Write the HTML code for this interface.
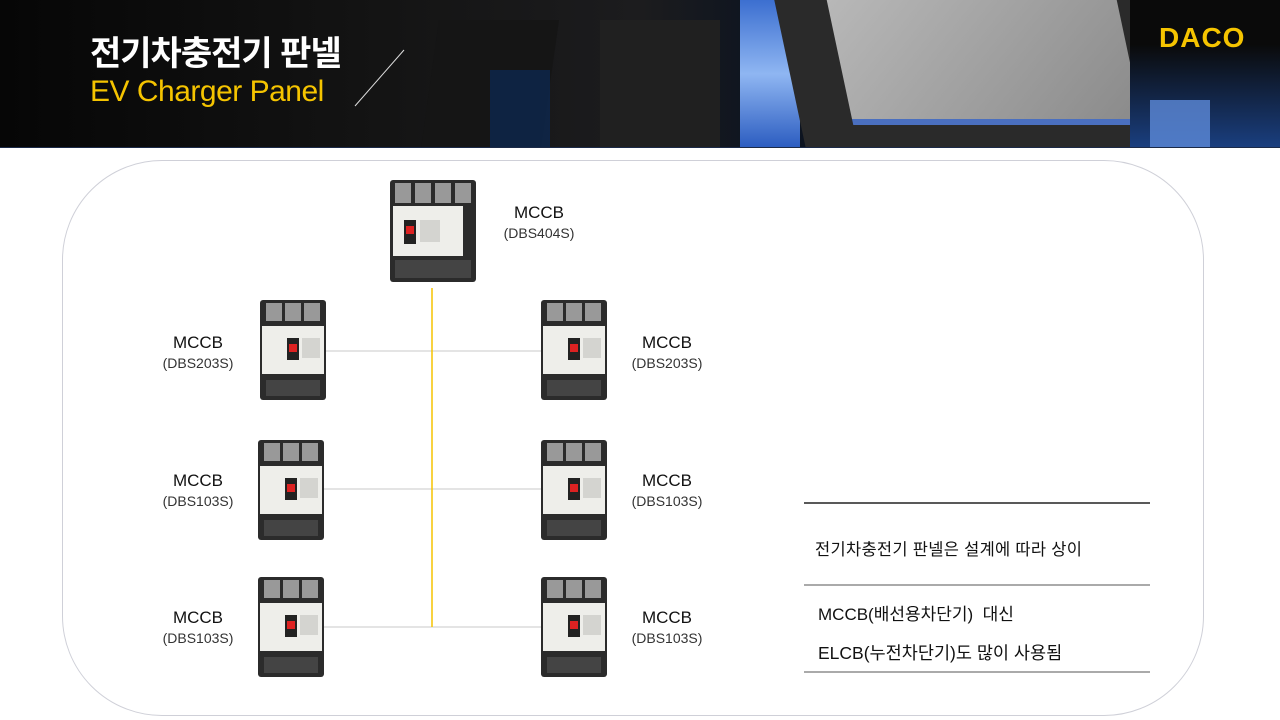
<!DOCTYPE html>
<html><head><meta charset="utf-8"><style>
*{margin:0;padding:0;box-sizing:border-box}
body{width:1280px;height:720px;background:#fff;position:relative;overflow:hidden;font-family:"Liberation Sans","Noto Sans CJK KR",sans-serif}
.hdr{position:absolute;left:0;top:0;width:1280px;height:148px;background:linear-gradient(90deg,#060606 0%,#141414 30%,#1c1c1e 50%,#0d1420 60%,#0a0f1a 100%);overflow:hidden;border-bottom:1px solid #1b2a48}
.abs{position:absolute}
.lbl{position:absolute;text-align:center;width:140px;color:#111}
.lbl b{display:block;font-weight:normal;font-size:17px;line-height:20px}
.lbl span{display:block;font-size:14px;line-height:20px;color:#333}
</style></head><body>
<div class="hdr">
  <div class="abs" style="left:430px;top:20px;width:120px;height:128px;background:#151515;transform:skewX(-8deg)"></div>
  <div class="abs" style="left:490px;top:70px;width:60px;height:78px;background:#0c2a55;opacity:.7"></div>
  <div class="abs" style="left:600px;top:20px;width:120px;height:128px;background:#202020"></div>
  <div class="abs" style="left:740px;top:0;width:60px;height:148px;background:linear-gradient(180deg,#3c6fd0,#8fb6f2,#2b5cc0)"></div>
  <div class="abs" style="left:790px;top:0;width:380px;height:148px;background:#2a2a2a;transform:skewX(12deg)"></div>
  <div class="abs" style="left:840px;top:0;width:290px;height:125px;background:linear-gradient(135deg,#b8b8b8,#8a8a8a);transform:skewX(12deg);border-bottom:6px solid #4a6fbf"></div>
  <div class="abs" style="left:1130px;top:0;width:150px;height:148px;background:linear-gradient(180deg,#0a0a0a 30%,#1a3f80 100%)"></div>
  <div class="abs" style="left:1150px;top:100px;width:60px;height:48px;background:#5d8ad8;opacity:.8"></div>
  <svg class="abs" style="left:0;top:0" width="1280" height="148"><line x1="404" y1="50" x2="355" y2="106" stroke="#ddd" stroke-width="1"/></svg>
  <div class="abs" style="left:90px;top:34px;color:#fff;font-size:34px;font-weight:bold;letter-spacing:-1px;line-height:40px">전기차충전기 판넬</div>
  <div class="abs" style="left:90px;top:74px;color:#f5c400;font-size:30px;line-height:36px;letter-spacing:-0.5px">EV Charger Panel</div>
  <div class="abs" style="left:1159px;top:23px;color:#f5c400;font-size:28px;font-weight:bold;line-height:30px;letter-spacing:1px">DACO</div>
</div>
<div class="abs" style="left:62px;top:160px;width:1142px;height:556px;border:1px solid #cfd0d8;border-radius:100px"></div>
<svg class="abs" style="left:0;top:0" width="1280" height="720">
  <line x1="326" y1="351" x2="541" y2="351" stroke="#c8c8c8"/>
  <line x1="322" y1="489" x2="543" y2="489" stroke="#c8c8c8"/>
  <line x1="322" y1="627" x2="543" y2="627" stroke="#c8c8c8"/>
  <line x1="432" y1="288" x2="432" y2="627" stroke="#f5c400" stroke-width="1.5"/>
  <line x1="804" y1="503" x2="1150" y2="503" stroke="#222" stroke-width="1.5"/>
  <line x1="804" y1="585" x2="1150" y2="585" stroke="#555"/>
  <line x1="804" y1="672" x2="1150" y2="672" stroke="#555"/>
  <defs>
    <g id="b3">
      <rect x="0" y="0" width="66" height="100" rx="3" fill="#2b2b2b"/>
      <rect x="6" y="3" width="16" height="18" fill="#999"/><rect x="25" y="3" width="16" height="18" fill="#999"/><rect x="44" y="3" width="16" height="18" fill="#999"/>
      <rect x="2" y="26" width="62" height="48" fill="#eeeeea"/>
      <rect x="27" y="38" width="12" height="22" fill="#222"/><rect x="29" y="44" width="8" height="8" fill="#d22"/>
      <rect x="42" y="38" width="18" height="20" fill="#d4d4d0"/>
      <rect x="6" y="80" width="54" height="16" fill="#444"/>
    </g>
  </defs>
  <use href="#b3" x="260" y="300"/>
  <use href="#b3" x="541" y="300"/>
  <use href="#b3" x="258" y="440"/>
  <use href="#b3" x="541" y="440"/>
  <use href="#b3" x="258" y="577"/>
  <use href="#b3" x="541" y="577"/>
  <g transform="translate(390,180)">
    <rect x="0" y="0" width="86" height="102" rx="3" fill="#2b2b2b"/>
    <rect x="5" y="3" width="16" height="20" fill="#999"/><rect x="25" y="3" width="16" height="20" fill="#999"/><rect x="45" y="3" width="16" height="20" fill="#999"/><rect x="65" y="3" width="16" height="20" fill="#999"/>
    <rect x="3" y="26" width="70" height="50" fill="#eeeeea"/>
    <rect x="14" y="40" width="12" height="24" fill="#222"/><rect x="16" y="46" width="8" height="8" fill="#d22"/>
    <rect x="30" y="40" width="20" height="22" fill="#d4d4d0"/>
    <rect x="5" y="80" width="76" height="18" fill="#444"/>
  </g>
</svg>
<div class="lbl" style="left:469px;top:203px"><b>MCCB</b><span>(DBS404S)</span></div>
<div class="lbl" style="left:128px;top:333px"><b>MCCB</b><span>(DBS203S)</span></div>
<div class="lbl" style="left:597px;top:333px"><b>MCCB</b><span>(DBS203S)</span></div>
<div class="lbl" style="left:128px;top:471px"><b>MCCB</b><span>(DBS103S)</span></div>
<div class="lbl" style="left:597px;top:471px"><b>MCCB</b><span>(DBS103S)</span></div>
<div class="lbl" style="left:128px;top:608px"><b>MCCB</b><span>(DBS103S)</span></div>
<div class="lbl" style="left:597px;top:608px"><b>MCCB</b><span>(DBS103S)</span></div>
<div class="abs" style="left:815px;top:536px;font-size:16.5px;color:#111;letter-spacing:0.3px">전기차충전기 판넬은 설계에 따라 상이</div>
<div class="abs" style="left:818px;top:600px;font-size:17px;color:#111">MCCB(배선용차단기)&nbsp; 대신</div>
<div class="abs" style="left:818px;top:640px;font-size:17.5px;color:#111">ELCB(누전차단기)도 많이 사용됨</div>
</body></html>
